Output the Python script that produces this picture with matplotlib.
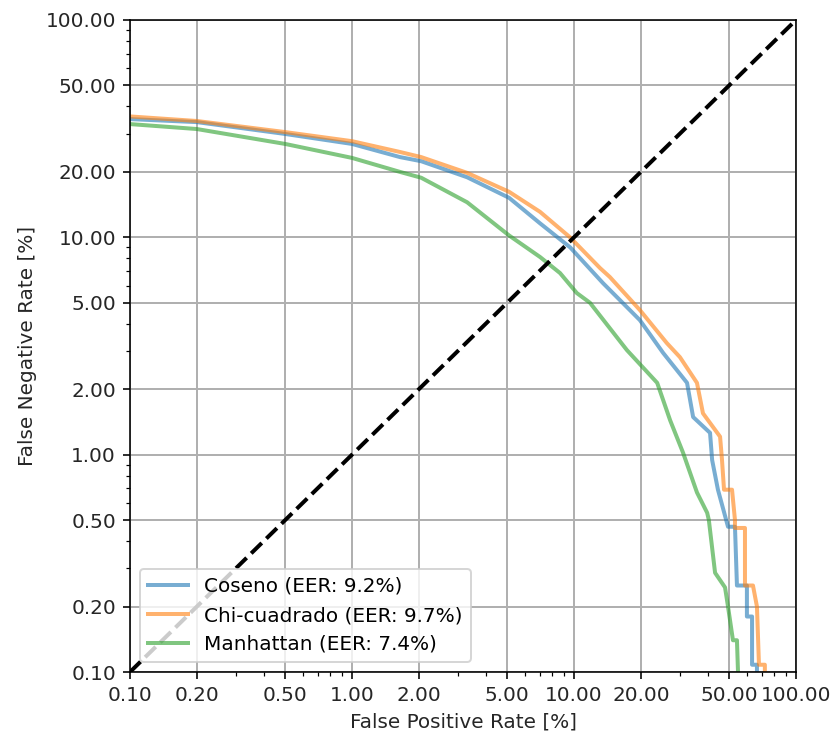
import matplotlib
matplotlib.use("Agg")
import matplotlib.pyplot as plt
from matplotlib.ticker import FormatStrFormatter, NullFormatter

# DET curve points (FPR %, FNR %)
coseno_fpr = [0.1, 0.2, 0.5, 1.0, 1.645, 2.05, 3.3, 5.1, 7.03, 9.6, 13.5, 19.8, 25.2,
              32.3, 34.4, 41.0, 41.9, 44.5, 49.4, 53.1, 54.2, 60.1, 60.1, 63.4, 63.4,
              66.7, 66.7]
coseno_fnr = [35.0, 33.9, 29.9, 26.9, 23.4, 22.4, 18.9, 15.2, 11.6, 9.0, 6.16, 4.16, 2.94,
              2.14, 1.49, 1.26, 0.945, 0.69, 0.466, 0.466, 0.25, 0.25, 0.18, 0.18, 0.108,
              0.108, 0.1]

chi_fpr = [0.1, 0.2, 0.5, 1.0, 1.645, 2.05, 3.3, 5.1, 7.03, 9.6, 13.1, 14.5, 19.8, 26.2,
           30.0, 35.8, 38.1, 45.5, 46.4, 47.4, 51.5, 53.1, 53.1, 58.9, 58.9, 64.0, 66.7,
           68.1, 72.4, 72.4]
chi_fnr = [36.0, 34.3, 30.5, 27.7, 24.7, 23.4, 19.8, 16.2, 13.1, 10.0, 7.22, 6.57, 4.63, 3.26,
           2.81, 2.14, 1.55, 1.21, 0.95, 0.69, 0.69, 0.5, 0.46, 0.46, 0.25, 0.25, 0.20,
           0.108, 0.108, 0.1]

manh_fpr = [0.1, 0.2, 0.5, 1.0, 1.645, 2.05, 3.3, 5.1, 7.03, 8.65, 10.3, 11.8, 17.3, 23.7,
            27.1, 31.0, 35.8, 39.8, 40.5, 43.2, 47.9, 49.4, 52.0, 54.2, 54.8]
manh_fnr = [33.2, 31.5, 26.9, 23.2, 20.0, 18.8, 14.5, 10.2, 8.12, 6.85, 5.54, 5.0, 3.03, 2.14,
            1.44, 1.02, 0.67, 0.54, 0.5, 0.286, 0.245, 0.2, 0.14, 0.14, 0.1]

labels = ["Coseno (EER: 9.2%)", "Chi-cuadrado (EER: 9.7%)", "Manhattan (EER: 7.4%)"]
ticks = [0.1, 0.2, 0.5, 1, 2, 5, 10, 20, 50, 100]

fig = plt.figure(figsize=(832 / 144, 735 / 144), dpi=144)
ax = fig.add_axes([130 / 832, 1 - 672 / 735, 666 / 832, 652 / 735])

ax.plot(coseno_fpr, coseno_fnr, color="tab:blue", lw=2, alpha=0.6, label=labels[0])
ax.plot(chi_fpr, chi_fnr, color="tab:orange", lw=2, alpha=0.6, label=labels[1])
ax.plot(manh_fpr, manh_fnr, color="tab:green", lw=2, alpha=0.6, label=labels[2])
ax.plot([0.1, 100], [0.1, 100], "k--", lw=2)

ax.set_xscale("log")
ax.set_yscale("log")
ax.set_xlim(0.1, 100)
ax.set_ylim(0.1, 100)
ax.set_xticks(ticks)
ax.set_yticks(ticks)
for axis in (ax.xaxis, ax.yaxis):
    axis.set_major_formatter(FormatStrFormatter("%.2f"))
    axis.set_minor_formatter(NullFormatter())
ax.tick_params(labelcolor="#262626")
ax.grid(True, which="major", color="#b0b0b0", lw=1)
ax.set_xlabel("False Positive Rate [%]", color="#262626")
ax.set_ylabel("False Negative Rate [%]", color="#262626")
ax.legend(loc="lower left")

fig.savefig("out.png", dpi=144)
